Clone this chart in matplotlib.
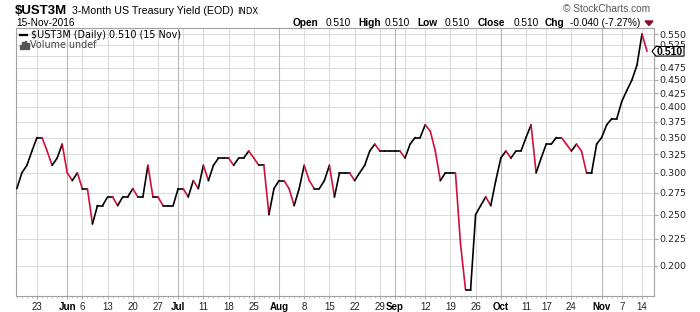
import numpy as np
import pandas as pd
import matplotlib
matplotlib.use('Agg')
import matplotlib.pyplot as plt
from matplotlib.collections import LineCollection
from matplotlib.patches import Polygon, Rectangle
from matplotlib.ticker import NullLocator, NullFormatter

# ---------------- data ----------------
values = [
    0.28, 0.30, 0.31, 0.33, 0.35, 0.35, 0.33, 0.31, 0.32, 0.34,
    0.30, 0.29, 0.30, 0.28, 0.28, 0.24, 0.26, 0.26, 0.27, 0.27,
    0.26, 0.27, 0.27, 0.28, 0.27, 0.27, 0.31, 0.27, 0.27, 0.26,
    0.26, 0.26, 0.28, 0.28, 0.27, 0.29, 0.28, 0.31, 0.29, 0.31,
    0.32, 0.32, 0.32, 0.31, 0.32, 0.32, 0.33, 0.32, 0.31, 0.31,
    0.25, 0.28, 0.29, 0.29, 0.28, 0.26, 0.28, 0.31, 0.29, 0.28,
    0.28, 0.29, 0.31, 0.27, 0.30, 0.30, 0.30, 0.29, 0.30, 0.31,
    0.33, 0.34, 0.33, 0.33, 0.33, 0.33, 0.33, 0.32, 0.34, 0.35,
    0.35, 0.37, 0.36, 0.33, 0.29, 0.30, 0.30, 0.30, 0.22, 0.18,
    0.18, 0.25, 0.26, 0.27, 0.26, 0.29, 0.32, 0.33, 0.32, 0.33,
    0.33, 0.35, 0.37, 0.30, 0.32, 0.34, 0.34, 0.35, 0.35, 0.34,
    0.33, 0.34, 0.33, 0.30, 0.30, 0.34, 0.35, 0.37, 0.38, 0.38,
    0.41, 0.43, 0.45, 0.48, 0.55, 0.51,
]
start_date = '2016-05-17'
end_date = '2016-11-15'
holidays = ['2016-05-30', '2016-07-04', '2016-09-05', '2016-10-10', '2016-11-11']

label_dates = ['2016-05-23', '2016-06-01', '2016-06-06', '2016-06-13', '2016-06-20',
               '2016-06-27', '2016-07-01', '2016-07-11', '2016-07-18', '2016-07-25',
               '2016-08-01', '2016-08-08', '2016-08-15', '2016-08-22', '2016-08-29',
               '2016-09-01', '2016-09-12', '2016-09-19', '2016-09-26', '2016-10-03',
               '2016-10-11', '2016-10-17', '2016-10-24', '2016-11-01', '2016-11-07',
               '2016-11-14']
label_texts = ['23', 'Jun', '6', '13', '20', '27', 'Jul', '11', '18', '25', 'Aug', '8',
               '15', '22', '29', 'Sep', '12', '19', '26', 'Oct', '11', '17', '24', 'Nov',
               '7', '14']
month_names = ['Jun', 'Jul', 'Aug', 'Sep', 'Oct', 'Nov']
extra_grid_dates = ['2016-07-05', '2016-09-06']
y_ticks = [0.200, 0.225, 0.250, 0.275, 0.300, 0.325, 0.350, 0.375, 0.400,
           0.425, 0.450, 0.475, 0.500, 0.525, 0.550]
hidden_y_labels = [0.500]   # covered by the last-value marker in the original

# ---------------- setup ----------------
W, H = 700, 312
fig = plt.figure(figsize=(W / 100, H / 100), dpi=100)
fig.patch.set_facecolor('white')
L, R, T, B = 16, 654, 28, 296
ax = fig.add_axes([L / W, 1 - B / H, (R - L) / W, (B - T) / H])

dates = pd.bdate_range(start_date, end_date)
dates = dates[~dates.isin(pd.to_datetime(holidays))]
xs = np.arange(len(values))
date_index = {d: i for i, d in enumerate(dates)}

ax.set_yscale('log')
ax.set_xlim(-0.165, 126.38)
ax.set_ylim(0.1752, 0.5646)

GRID = '#dcdcdc'
MGRID = '#b8b8b8'
for yt in y_ticks:
    ax.axhline(yt, color=GRID, lw=0.8, zorder=0)
label_pos = [date_index[pd.Timestamp(d)] for d in label_dates]
for p, t in zip(label_pos, label_texts):
    ax.axvline(p, color=MGRID if t in month_names else GRID, lw=0.8, zorder=0)
for d in extra_grid_dates:
    ax.axvline(date_index[pd.Timestamp(d)], color=GRID, lw=0.8, zorder=0)

# colored line segments (red when the value falls)
segs, cols = [], []
for i in range(1, len(values)):
    segs.append([(xs[i - 1], values[i - 1]), (xs[i], values[i])])
    cols.append('#d0103a' if values[i] < values[i - 1] else '#000000')
lc = LineCollection(segs, colors=cols, linewidths=1.2, capstyle='round',
                    joinstyle='round', zorder=3)
ax.add_collection(lc)

# axes styling
for s in ax.spines.values():
    s.set_color('#a0a0a0')
    s.set_linewidth(0.8)

ax.yaxis.tick_right()
ax.set_yticks(y_ticks)
ax.set_yticklabels(['' if v in hidden_y_labels else '%.3f' % v for v in y_ticks])
ax.yaxis.set_minor_locator(NullLocator())
ax.yaxis.set_minor_formatter(NullFormatter())
ax.tick_params(axis='y', which='major', length=3, width=0.6, color='#999999',
               pad=1, labelsize=6.8, labelcolor='#222222')
for lab in ax.get_yticklabels():
    lab.set_fontfamily('DejaVu Sans')

ax.set_xticks(label_pos)
ax.set_xticklabels(label_texts)
ax.set_xticks(xs, minor=True)
ax.tick_params(axis='x', which='major', length=2, width=0.6, color='#999999',
               pad=2, labelsize=7, labelcolor='#222222')
ax.tick_params(axis='x', which='minor', length=1.5, width=0.5, color='#b0b0b0')
for lab in ax.get_xticklabels():
    lab.set_fontfamily('Liberation Sans')
    if lab.get_text() in month_names:
        lab.set_fontweight('bold')
        lab.set_color('#000000')


def ftext(x, y, s, **kw):
    kw.setdefault('family', 'Liberation Sans')
    return fig.text(x / W, 1 - y / H, s, va='baseline', ha=kw.pop('ha', 'left'), **kw)


# header
ftext(15, 14.5, '$UST3M', fontsize=9.5, fontweight='bold')
ftext(72, 14.5, '3-Month US Treasury Yield (EOD)', fontsize=7.7)
ftext(237, 14.5, 'INDX', fontsize=6, family='DejaVu Sans')
ftext(16, 26, '15-Nov-2016', fontsize=7.3)
ftext(563, 12.5, '\u00a9 StockCharts.com', fontsize=7.3, color='#555555')
hdr = [(293, 'Open', True), (326, '0.510', False), (358, 'High', True), (385, '0.510', False),
       (417, 'Low', True), (445, '0.510', False), (478, 'Close', True), (514, '0.510', False),
       (545, 'Chg', True), (570, '-0.040 (-7.27%)', False)]
for x, s, bold in hdr:
    ftext(x, 26, s, fontsize=7.3, fontweight='bold' if bold else 'normal')
fig.add_artist(Polygon([[645 / W, 1 - 21 / H], [653 / W, 1 - 21 / H], [649 / W, 1 - 25.5 / H]],
                       closed=True, transform=fig.transFigure, color='#8b0a2a'))

# legend inside plot
fig.add_artist(plt.Line2D([20 / W, 27 / W], [1 - 35 / H, 1 - 35 / H], transform=fig.transFigure,
                          color='black', lw=1.6))
ftext(31, 38.5, '$UST3M (Daily) 0.510 (15 Nov)', fontsize=6.9, family='DejaVu Sans')
for bx, bh in [(20, 4), (22.3, 6), (24.6, 7), (26.9, 5)]:
    fig.add_artist(Rectangle((bx / W, 1 - 48.5 / H), 1.6 / W, bh / H,
                             transform=fig.transFigure, color='#555555'))
ftext(29.5, 48.5, 'Volume undef', fontsize=6.9, family='DejaVu Sans', color='#444444')

# current value marker
yv = values[-1]
disp_y = ax.transData.transform((0, yv))[1]
cy = H - disp_y
pts = [(652, cy), (656, cy - 4.8), (684, cy - 4.8), (684, cy + 4.8), (656, cy + 4.8)]
fig.add_artist(Polygon([(px / W, 1 - py / H) for px, py in pts], closed=True,
                       transform=fig.transFigure, facecolor='white', edgecolor='black',
                       lw=0.8, zorder=10))
fig.text(670 / W, 1 - cy / H, '%.3f' % yv, ha='center', va='center_baseline',
         fontsize=7.6, fontweight='bold', family='Liberation Sans', zorder=11)

fig.savefig('out.png', dpi=100, facecolor='white')
